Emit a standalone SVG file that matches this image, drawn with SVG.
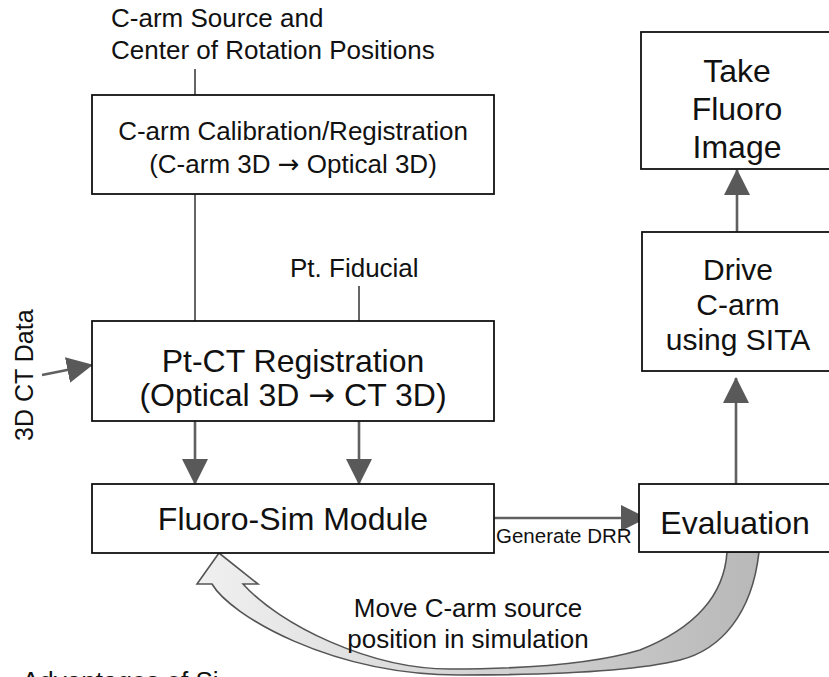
<svg xmlns="http://www.w3.org/2000/svg" width="829" height="677" viewBox="0 0 829 677">
<defs>
<style>
.box{fill:#fff;stroke:#111;stroke-width:1.8}
.t{font-family:"Liberation Sans",Arial,sans-serif;fill:#111}
.c{text-anchor:middle}
.arw{font-family:"DejaVu Sans",sans-serif}
.ln{stroke:#666;stroke-width:2;fill:none}
.ar{stroke:#606060;stroke-width:2.6;fill:none}
</style>
<marker id="ah" viewBox="0 0 26 26" refX="25" refY="13" markerWidth="26" markerHeight="26" orient="auto" markerUnits="userSpaceOnUse">
<path d="M0,0 L26,13 L0,26 Z" fill="#595959"/>
</marker>
<linearGradient id="g" gradientUnits="userSpaceOnUse" x1="200" y1="0" x2="760" y2="0">
<stop offset="0" stop-color="#f0f0f0"/>
<stop offset="1" stop-color="#b8b8b8"/>
</linearGradient>
</defs>

<g id="connectors">
<line class="ln" x1="195" y1="69" x2="195" y2="95"/>
<line class="ln" x1="195" y1="194" x2="195" y2="321"/>
<line class="ln" x1="359" y1="286" x2="359" y2="321"/>
<line class="ar" x1="42" y1="375" x2="92" y2="365" marker-end="url(#ah)"/>
<line class="ar" x1="195" y1="421" x2="195" y2="484" marker-end="url(#ah)"/>
<line class="ar" x1="359" y1="421" x2="359" y2="484" marker-end="url(#ah)"/>
<line class="ar" x1="494" y1="518" x2="646" y2="518" marker-end="url(#ah)"/>
<line class="ar" x1="736" y1="484" x2="736" y2="378" marker-end="url(#ah)"/>
<line class="ar" x1="737" y1="232" x2="737" y2="170" marker-end="url(#ah)"/>
<path id="loop" d="M212,584 C230,615 330,675 460,675 C560,675 640,670 680,660 C720,650 752,615 759,552 L727,552 C724,600 690,630 640,650 C590,665 520,669 450,669 C370,669 280,625 243,584 L258,584 L219,553 L197,584 Z" fill="url(#g)" stroke="#555" stroke-width="1.6" stroke-linejoin="miter"/>
</g>

<g id="src-label">
<text class="t" x="111" y="27" font-size="26">C-arm Source and</text>
<text class="t" x="111" y="59" font-size="26">Center of Rotation Positions</text>
</g>

<g id="calibration">
<rect class="box" x="92" y="95" width="402" height="99"/>
<text class="t c" x="293" y="140" font-size="26">C-arm Calibration/Registration</text>
<text class="t c" x="293" y="173" font-size="26">(C-arm 3D <tspan class="arw">→</tspan> Optical 3D)</text>
</g>

<g id="fiducial-label">
<text class="t" x="290" y="277" font-size="26">Pt. Fiducial</text>
</g>

<g id="ct-label">
<text class="t" x="0" y="0" font-size="25" transform="translate(33,441) rotate(-90)">3D CT Data</text>
</g>

<g id="ptct">
<rect class="box" x="92" y="321" width="402" height="100"/>
<text class="t c" x="293" y="372" font-size="32">Pt-CT Registration</text>
<text class="t c" x="293" y="406" font-size="32">(Optical 3D <tspan class="arw">→</tspan> CT 3D)</text>
</g>

<g id="fluorosim">
<rect class="box" x="92" y="484" width="402" height="69"/>
<text class="t c" x="293" y="530" font-size="32">Fluoro-Sim Module</text>
</g>

<g id="drr-label">
<text class="t" x="496" y="543" font-size="20.5">Generate DRR</text>
</g>

<g id="evaluation">
<rect class="box" x="639" y="484" width="192" height="68"/>
<text class="t c" x="735" y="534" font-size="32">Evaluation</text>
</g>

<g id="drive">
<rect class="box" x="642" y="232" width="192" height="139"/>
<text class="t c" x="738" y="280" font-size="30">Drive</text>
<text class="t c" x="738" y="315" font-size="30">C-arm</text>
<text class="t c" x="738" y="350" font-size="30">using SITA</text>
</g>

<g id="take">
<rect class="box" x="641" y="32" width="192" height="137"/>
<text class="t c" x="737" y="82" font-size="32">Take</text>
<text class="t c" x="737" y="120" font-size="32">Fluoro</text>
<text class="t c" x="737" y="158" font-size="32">Image</text>
</g>

<g id="move-label">
<text class="t c" x="468" y="617" font-size="26">Move C-arm source</text>
<text class="t c" x="468" y="648" font-size="26">position in simulation</text>
</g>

<g id="bottom-cut">
<text class="t" x="22" y="690" font-size="26">Advantages of Si</text>
</g>
</svg>
